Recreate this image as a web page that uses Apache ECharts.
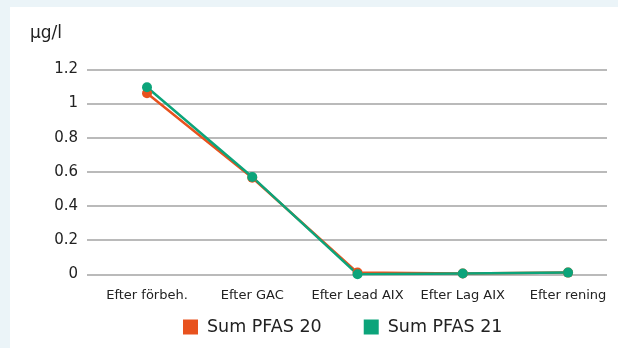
<!DOCTYPE html>
<html>
<head>
<meta charset="utf-8">
<script src="https://cdn.jsdelivr.net/npm/echarts@6/dist/echarts.min.js"></script>
<style>
  html, body { margin: 0; padding: 0; background: #ebf4f8; }
  #chart { width: 618px; height: 348px; }
</style>
</head>
<body>
<div id="chart"></div>
<script>
// categories along x
var categories = ['Efter förbeh.', 'Efter GAC', 'Efter Lead AIX', 'Efter Lag AIX', 'Efter rening'];
// Sum PFAS values, µg/l
var pfas20 = [1.06, 0.565, 0.01, 0.005, 0.01];
var pfas21 = [1.095, 0.57, 0.0, 0.005, 0.01];
var yTicks = [0, 0.2, 0.4, 0.6, 0.8, 1, 1.2];

var orange = '#e8521e';
var green = '#0ca47a';
var font = 'DejaVu Sans';

function toPairs(arr) {
    var out = [];
    for (var i = 0; i < arr.length; i++) {
        out.push([i, arr[i]]);
    }
    return out;
}

var chart = echarts.init(document.getElementById('chart'));
var option = {
    animation: false,
    backgroundColor: '#ebf4f8',
    textStyle: { fontFamily: font },
    graphic: [
        { type: 'rect', left: 10, top: 7, z: -10, shape: { width: 608, height: 341 }, style: { fill: '#ffffff' } },
        { type: 'text', left: 30, top: 25, style: { text: 'μg/l', fontSize: 17, fill: '#222', fontFamily: font } }
    ],
    grid: { left: 87, right: 11, top: 69.3, height: 205, containLabel: false },
    legend: {
        left: 183,
        top: 318,
        padding: 0,
        itemWidth: 15,
        itemHeight: 15,
        itemGap: 42,
        icon: 'rect',
        textStyle: { fontSize: 17.5, color: '#222', fontFamily: font, padding: [0, 0, 0, 4] },
        data: ['Sum PFAS 20', 'Sum PFAS 21']
    },
    xAxis: {
        type: 'value',
        min: -0.57,
        max: 4.37,
        axisLine: { show: false },
        axisTick: { show: false },
        splitLine: { show: false },
        axisLabel: {
            customValues: [0, 1, 2, 3, 4],
            margin: 15,
            fontSize: 13,
            color: '#222',
            formatter: function (v) { return categories[Math.round(v)]; }
        }
    },
    yAxis: {
        type: 'value',
        min: 0,
        max: 1.2,
        interval: 0.2,
        axisLine: { show: false },
        axisTick: { show: false },
        axisLabel: {
            margin: 9,
            fontSize: 15,
            color: '#222',
            formatter: function (v) {
                for (var i = 0; i < yTicks.length; i++) {
                    if (Math.abs(yTicks[i] - v) < 1e-6) return String(yTicks[i]);
                }
                return '';
            }
        },
        splitLine: { lineStyle: { color: '#a3a3a3', width: 1.5 } }
    },
    series: [
        {
            name: 'Sum PFAS 20',
            type: 'line',
            data: toPairs(pfas20),
            symbol: 'circle',
            symbolSize: 10,
            itemStyle: { color: orange },
            lineStyle: { color: orange, width: 2.5 }
        },
        {
            name: 'Sum PFAS 21',
            type: 'line',
            data: toPairs(pfas21),
            symbol: 'circle',
            symbolSize: 10,
            itemStyle: { color: green },
            lineStyle: { color: green, width: 2.5 }
        }
    ]
};
chart.setOption(option);
</script>
</body>
</html>
